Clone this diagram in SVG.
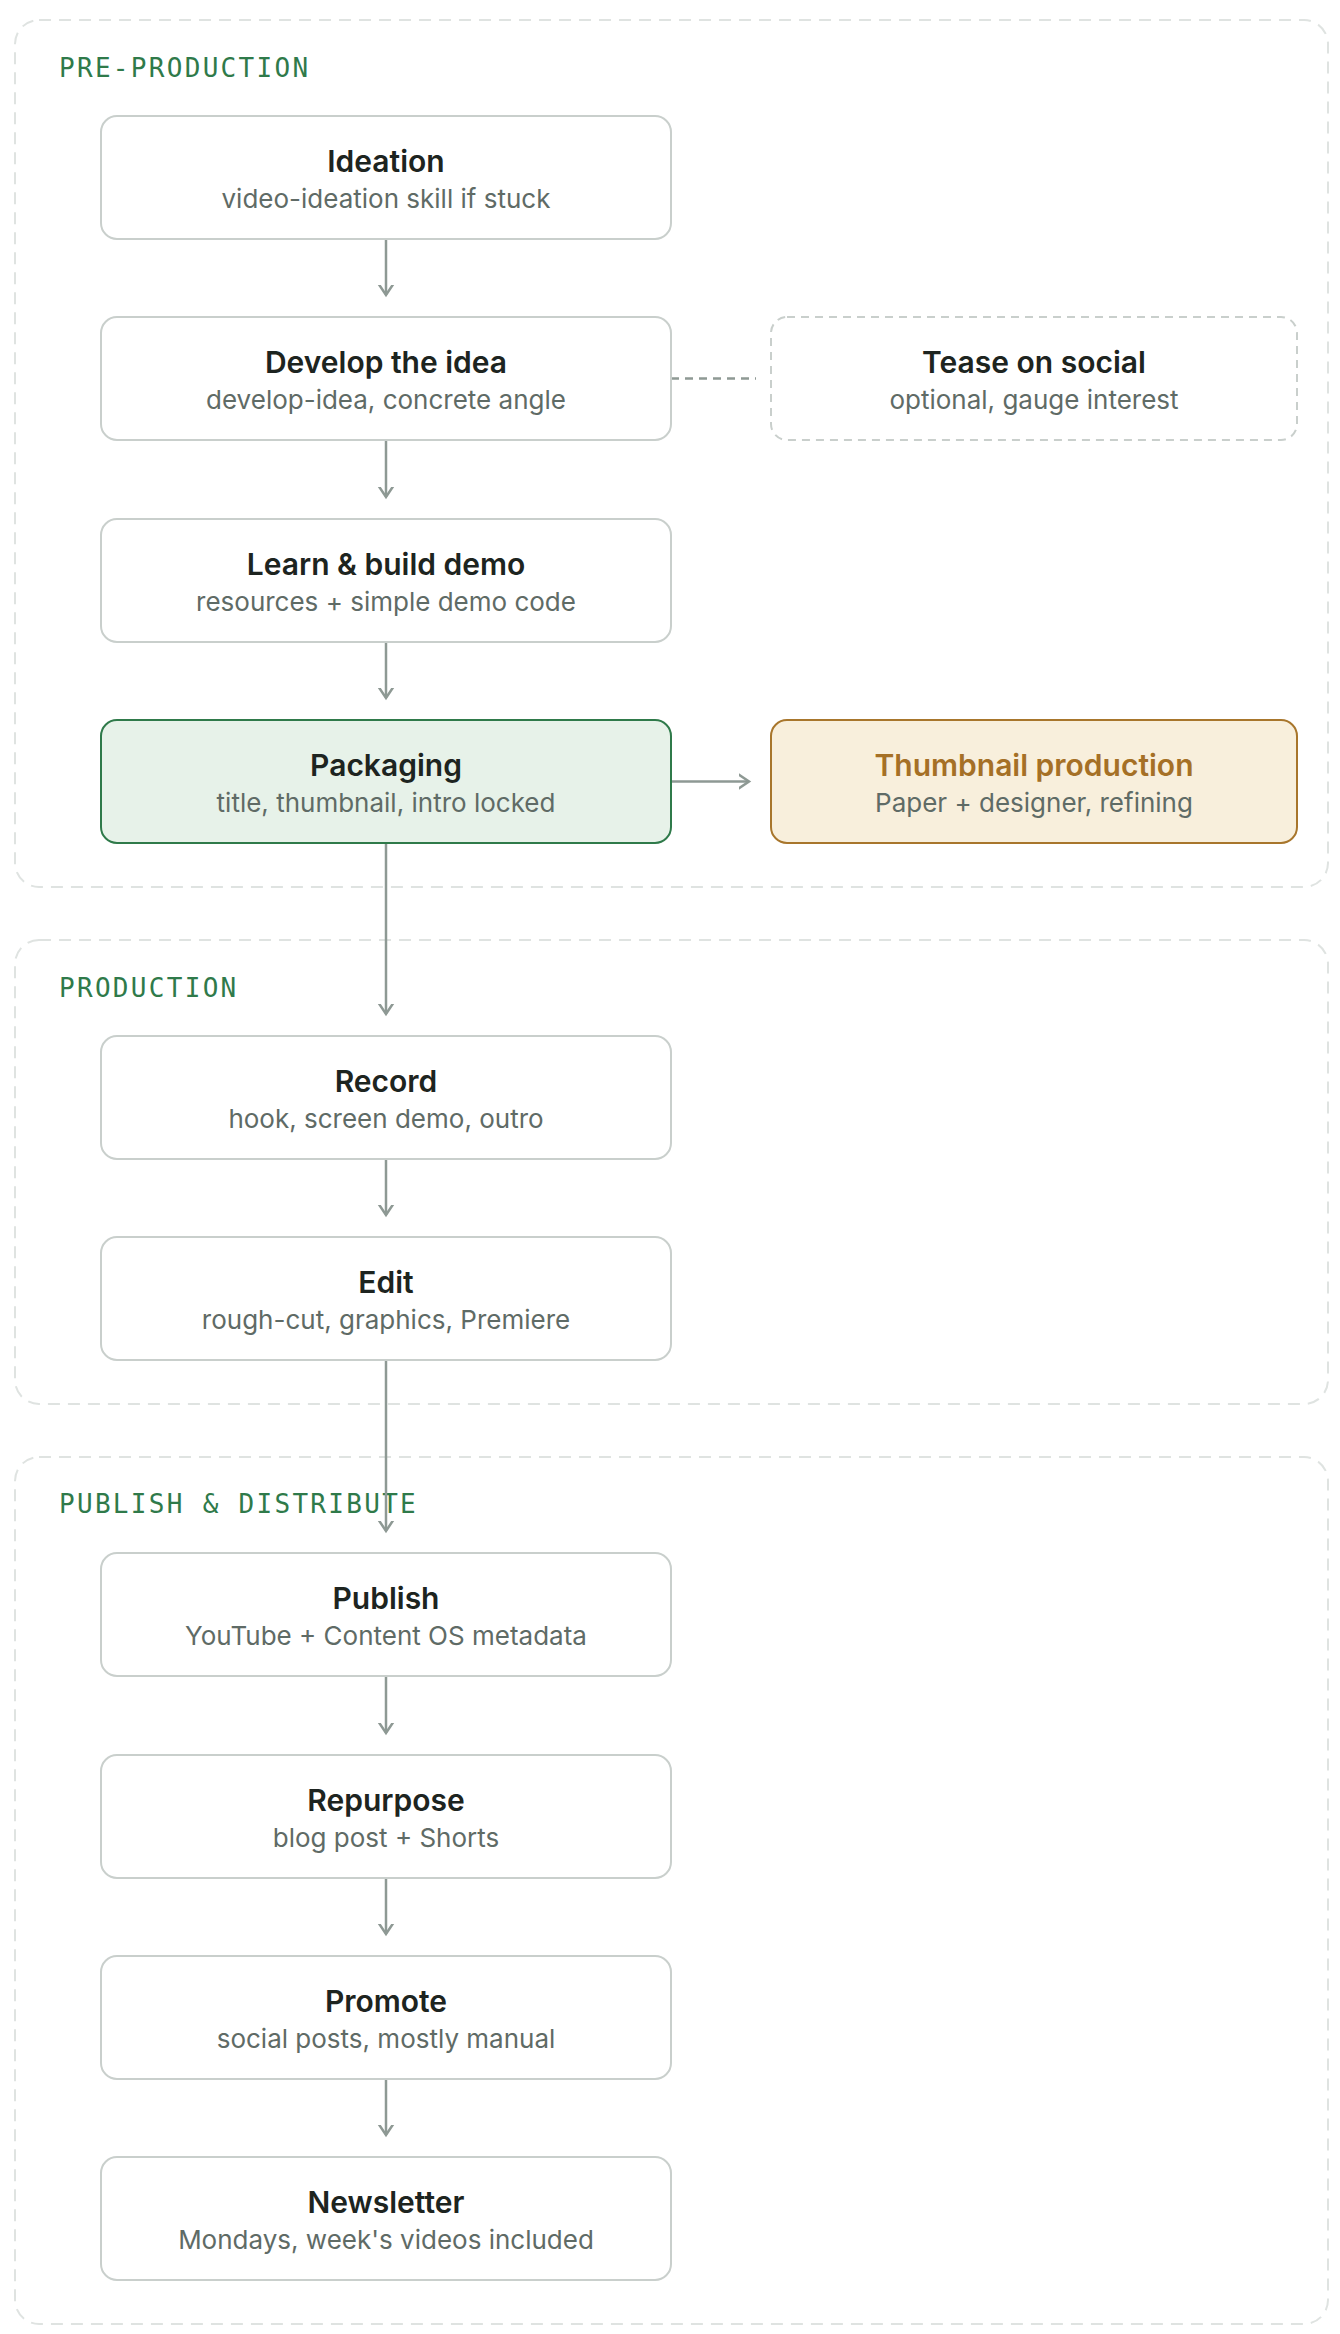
<svg xmlns="http://www.w3.org/2000/svg" width="1340" height="2334" viewBox="0 0 1340 2334">
<defs>
<style>
.grp{fill:none;stroke:#dfe3e1;stroke-width:2;stroke-dasharray:12 8}
.glabel{font-family:"DejaVu Sans Mono","Liberation Mono",monospace;font-size:26px;fill:#2f7a4a;letter-spacing:2.3px}
.box{fill:#ffffff;stroke:#c9cfcc;stroke-width:2}
.dbox{fill:#ffffff;stroke:#c9cfcc;stroke-width:2;stroke-dasharray:8 6}
.gbox{fill:#e7f2e9;stroke:#2f7a4a;stroke-width:2}
.abox{fill:#f8efdc;stroke:#a8762c;stroke-width:2}
.t{font-family:Inter,"Noto Sans","Liberation Sans",sans-serif;font-size:30px;font-weight:600;fill:#1d2420;text-anchor:middle}
.ta{fill:#a57026}
.s{font-family:Inter,"Noto Sans","Liberation Sans",sans-serif;font-size:26px;fill:#5f6b66;text-anchor:middle}
.c{fill:none;stroke:#8e9994;stroke-width:2.5}
.cd{fill:none;stroke:#8e9994;stroke-width:2.5;stroke-dasharray:8 6}
</style>
<marker id="arr" viewBox="0 0 20 20" refX="10" refY="10" markerWidth="20" markerHeight="20" markerUnits="userSpaceOnUse" orient="auto">
<path d="M-2,2 L10,10 L-2,18" fill="none" stroke="#8e9994" stroke-width="2.5"/>
</marker>
</defs>
<rect width="1340" height="2334" fill="#ffffff"/>
<g id="groups">
<g id="group-pre"><rect class="grp" x="15" y="20" width="1313" height="867" rx="24"/><text class="glabel" x="59" y="77">PRE-PRODUCTION</text></g>
<g id="group-prod"><rect class="grp" x="15" y="940" width="1313" height="464" rx="24"/><text class="glabel" x="59" y="997">PRODUCTION</text></g>
<g id="group-pub"><rect class="grp" x="15" y="1457" width="1313" height="867" rx="24"/><text class="glabel" x="59" y="1513">PUBLISH &amp; DISTRIBUTE</text></g>
</g>
<g id="connectors">
<line class="c" x1="386" y1="239" x2="386" y2="295" marker-end="url(#arr)"/>
<line class="c" x1="386" y1="440" x2="386" y2="497" marker-end="url(#arr)"/>
<line class="c" x1="386" y1="642" x2="386" y2="698" marker-end="url(#arr)"/>
<line class="c" x1="386" y1="843" x2="386" y2="1014" marker-end="url(#arr)"/>
<line class="c" x1="386" y1="1159" x2="386" y2="1215" marker-end="url(#arr)"/>
<line class="c" x1="386" y1="1360" x2="386" y2="1531" marker-end="url(#arr)"/>
<line class="c" x1="386" y1="1676" x2="386" y2="1733" marker-end="url(#arr)"/>
<line class="c" x1="386" y1="1878" x2="386" y2="1934" marker-end="url(#arr)"/>
<line class="c" x1="386" y1="2079" x2="386" y2="2135" marker-end="url(#arr)"/>
<line class="cd" x1="671" y1="378.5" x2="756" y2="378.5"/>
<line class="c" x1="671" y1="781.5" x2="749" y2="781.5" marker-end="url(#arr)"/>
</g>
<g id="n-ideation"><rect class="box" x="101" y="116" width="570" height="123" rx="16"/><text class="t" x="386" y="172">Ideation</text><text class="s" x="386" y="208">video-ideation skill if stuck</text></g>
<g id="n-develop"><rect class="box" x="101" y="317" width="570" height="123" rx="16"/><text class="t" x="386" y="373">Develop the idea</text><text class="s" x="386" y="409">develop-idea, concrete angle</text></g>
<g id="n-tease"><rect class="dbox" x="771" y="317" width="526" height="123" rx="16"/><text class="t" x="1034" y="373">Tease on social</text><text class="s" x="1034" y="409">optional, gauge interest</text></g>
<g id="n-learn"><rect class="box" x="101" y="519" width="570" height="123" rx="16"/><text class="t" x="386" y="575">Learn &amp; build demo</text><text class="s" x="386" y="611">resources + simple demo code</text></g>
<g id="n-packaging"><rect class="gbox" x="101" y="720" width="570" height="123" rx="16"/><text class="t" x="386" y="776">Packaging</text><text class="s" x="386" y="812">title, thumbnail, intro locked</text></g>
<g id="n-thumbnail"><rect class="abox" x="771" y="720" width="526" height="123" rx="16"/><text class="t ta" x="1034" y="776">Thumbnail production</text><text class="s" x="1034" y="812">Paper + designer, refining</text></g>
<g id="n-record"><rect class="box" x="101" y="1036" width="570" height="123" rx="16"/><text class="t" x="386" y="1092">Record</text><text class="s" x="386" y="1128">hook, screen demo, outro</text></g>
<g id="n-edit"><rect class="box" x="101" y="1237" width="570" height="123" rx="16"/><text class="t" x="386" y="1293">Edit</text><text class="s" x="386" y="1329">rough-cut, graphics, Premiere</text></g>
<g id="n-publish"><rect class="box" x="101" y="1553" width="570" height="123" rx="16"/><text class="t" x="386" y="1609">Publish</text><text class="s" x="386" y="1645">YouTube + Content OS metadata</text></g>
<g id="n-repurpose"><rect class="box" x="101" y="1755" width="570" height="123" rx="16"/><text class="t" x="386" y="1811">Repurpose</text><text class="s" x="386" y="1847">blog post + Shorts</text></g>
<g id="n-promote"><rect class="box" x="101" y="1956" width="570" height="123" rx="16"/><text class="t" x="386" y="2012">Promote</text><text class="s" x="386" y="2048">social posts, mostly manual</text></g>
<g id="n-newsletter"><rect class="box" x="101" y="2157" width="570" height="123" rx="16"/><text class="t" x="386" y="2213">Newsletter</text><text class="s" x="386" y="2249">Mondays, week's videos included</text></g>
</svg>
